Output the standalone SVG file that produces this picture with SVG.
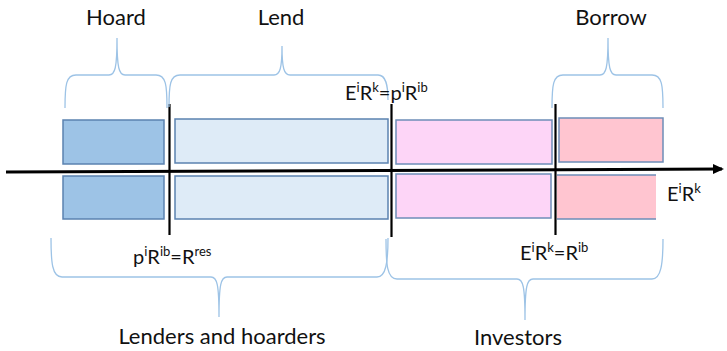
<svg xmlns="http://www.w3.org/2000/svg" width="727" height="351" viewBox="0 0 727 351">
<style>
.t{font-family:Lato,"Liberation Sans",sans-serif;font-size:22px;fill:#111}
.m{font-family:Lato,"Liberation Sans",sans-serif;font-size:20px;fill:#111}
.br{fill:none;stroke:#9DC3E6;stroke-width:1.3}
.vl{stroke:#000;stroke-width:2.2}
.hoard{fill:#9DC3E6;stroke:#5B82B0;stroke-width:1.5}
.lend{fill:#DEEBF7;stroke:#5B82B0;stroke-width:1.5}
.inv{fill:#FDD5F7;stroke:#6E8DB8;stroke-width:1.5}
.bor{fill:#FFC5D0;stroke:#6E8DB8;stroke-width:1.5}
</style>
<defs>
<marker id="ah" markerWidth="11" markerHeight="10" refX="9" refY="5" orient="auto" markerUnits="userSpaceOnUse">
<path d="M0,0 L11,5 L0,10 z" fill="#000"/>
</marker>
</defs>
<rect width="727" height="351" fill="#fff"/>
<g id="hoard">
<rect class="hoard" x="63" y="120" width="101" height="44"/>
<rect class="hoard" x="63" y="176" width="101" height="43"/>
</g>
<g id="lend">
<rect class="lend" x="175" y="119" width="213" height="44"/>
<rect class="lend" x="175" y="176" width="213" height="43"/>
</g>
<g id="invest">
<rect class="inv" x="396" y="120" width="156" height="44"/>
<rect class="inv" x="396" y="174" width="155" height="44"/>
</g>
<g id="borrow">
<rect class="bor" x="559" y="118" width="104" height="44"/>
<rect x="557" y="175" width="99" height="44" fill="#FFC5D0"/>
<path d="M557,175 H656 M557,219 H656" stroke="#6E8DB8" stroke-width="1.5"/>
</g>
<g id="connectors">
<line x1="6" y1="172" x2="722" y2="169" stroke="#000" stroke-width="3" marker-end="url(#ah)"/>
<line class="vl" x1="169.5" y1="104" x2="169.5" y2="235"/>
<line class="vl" x1="391.5" y1="104" x2="391.5" y2="237"/>
<line class="vl" x1="555.5" y1="104" x2="555.5" y2="235"/>
<path class="br" d="M65,108 C65,85 66,75 76,75 L109,75 C115,75 117,68 117,38 C117,68 119,75 125,75 L156,75 C166,75 167,85 167,108"/>
<path class="br" d="M169,107 C169,85 170,75 180,75 L274,75 C280,75 282,68 282,46 C282,68 284,75 290,75 L378,75 C386,75 388,85 388,100"/>
<path class="br" d="M552,108 C552,85 553,75 563,75 L600,75 C606,75 608,68 608,38 C608,68 610,75 616,75 L652,75 C662,75 663,85 663,108"/>
<path class="br" d="M51,238 C51,262 52,277 62,277 L211,277 C217,277 219,284 219,317 C219,284 221,277 227,277 L377,277 C386,277 388,262 388,238"/>
<path class="br" d="M386,239 C386,264 387,279 397,279 L517,279 C523,279 525,286 525,320 C525,286 527,279 533,279 L652,279 C661,279 663,264 663,239"/>
</g>
<g id="labels">
<text class="t" x="116" y="25" text-anchor="middle">Hoard</text>
<text class="t" x="281" y="25" text-anchor="middle">Lend</text>
<text class="t" x="611" y="25" text-anchor="middle">Borrow</text>
<text class="t" x="222" y="344" text-anchor="middle">Lenders and hoarders</text>
<text class="t" x="518" y="345" text-anchor="middle">Investors</text>
<text class="m" x="345" y="100">E<tspan font-size="13" dy="-8">i</tspan><tspan dy="8">R</tspan><tspan font-size="13" dy="-8">k</tspan><tspan dy="8">=p</tspan><tspan font-size="13" dy="-8">i</tspan><tspan dy="8">R</tspan><tspan font-size="13" dy="-8">ib</tspan></text>
<text class="m" x="667" y="201">E<tspan font-size="13" dy="-8">i</tspan><tspan dy="8">R</tspan><tspan font-size="13" dy="-8">k</tspan></text>
<text class="m" x="133" y="264">p<tspan font-size="13" dy="-8">i</tspan><tspan dy="8">R</tspan><tspan font-size="13" dy="-8">ib</tspan><tspan dy="8">=R</tspan><tspan font-size="13" dy="-8">res</tspan></text>
<text class="m" x="520" y="260">E<tspan font-size="13" dy="-8">i</tspan><tspan dy="8">R</tspan><tspan font-size="13" dy="-8">k</tspan><tspan dy="8">=R</tspan><tspan font-size="13" dy="-8">ib</tspan></text>
</g>
</svg>
